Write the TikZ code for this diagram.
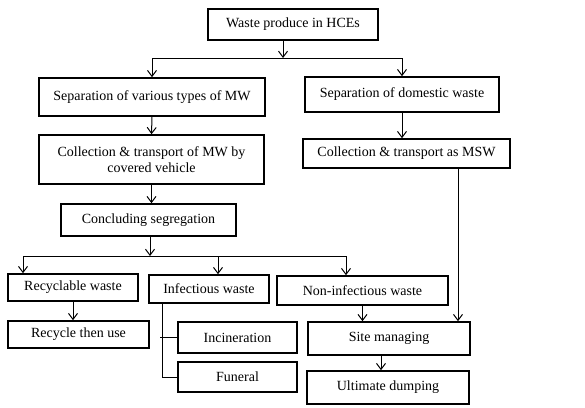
\documentclass[tikz,border=0pt]{standalone}
\usepackage{fontspec}
\setmainfont{Liberation Serif}
\usetikzlibrary{arrows.meta}

\begin{document}
\begin{tikzpicture}[
 x=1pt,
 y=-1pt,
 >={Straight Barb[length=6pt,width=9pt]},
 line width=1pt,
 stage/.style={
  draw=black,
  line width=1.6pt,
  rectangle,
  inner sep=1mm,
  minimum height=#1,
  align=center,
  font=\fontsize{14}{16}\selectfont,
 },
 stage/.default=30pt,
]
\useasboundingbox (0,0) rectangle (585,407);

\node at (293,24.5) [stage=31pt,minimum width=170pt] (produce) {Waste produce in HCEs};

\node at (152,97) [stage=38pt,minimum width=226pt] (sepmw) {Separation of various types of MW};
\node at (402,94.5) [stage=35pt,minimum width=194pt] (sepdom) {Separation of domestic waste};
\node at (151.5,159.5) [stage=49pt,minimum width=225pt] (collmw) {Collection \& transport of MW by\\covered vehicle};
\node at (406.5,153.5) [stage=29pt,minimum width=207pt] (collmsw) {Collection \& transport as MSW};
\node at (148.5,220) [stage=32pt,minimum width=175pt] (concl) {Concluding segregation};

\coordinate (split) at (283,58);
\draw[->] (produce.south -| split) -- (split);
\draw[->] (split) -| (sepmw.north);
\draw[->] (split) -| (sepdom.north);
\draw[->] (sepmw.south) -- (collmw.north);
\draw[->] (sepdom.south) -- (sepdom.south |- collmsw.north);
\draw[->] (collmw.south) -- (collmw.south |- concl.north);

\node at (73,287.5) [stage=27pt,minimum width=130pt] (recyc) {Recyclable waste};
\node at (209,289) [stage=28pt,minimum width=120pt] (infect) {Infectious waste};
\node at (362.5,290.5) [stage=29pt,minimum width=171pt] (noninf) {Non-infectious waste};
\node at (78.5,334.5) [stage=27pt,minimum width=141pt] (reuse) {Recycle then use};
\node at (237.5,337.5) [stage=31pt,minimum width=119pt] (incin) {Incineration};
\node at (237.5,377) [stage=30pt,minimum width=119pt] (funeral) {Funeral};
\node at (389,338.5) [stage=33pt,minimum width=162pt] (site) {Site managing};
\node at (388,387.5) [stage=33pt,minimum width=162pt] (dump) {Ultimate dumping};

\coordinate (fork) at (150,256);
\coordinate (fork1) at (23,256);
\coordinate (fork2) at (218,256);
\coordinate (fork3) at (346,256);
\draw[->] (concl.south -| fork) -- (fork);
\draw (fork1) -- (fork3);
\draw[->] (fork1) -- (fork1 |- recyc.north);
\draw[->] (fork2) -- (fork2 |- infect.north);
\draw[->] (fork3) -- (fork3 |- noninf.north);
\draw[->] (recyc.south) -- (recyc.south |- reuse.north);

\coordinate (trunk) at (162,0);
\draw (infect.south -| trunk) -- (trunk |- funeral.west) -- (funeral.west);
\draw ([xshift=-2pt]trunk |- incin.west) -- (incin.west);

\coordinate (drop) at (458,0);
\coordinate (feed) at (381,0);
\draw[->] (noninf.south) -- (noninf.south |- site.north);
\draw[->] (collmsw.south -| drop) -- (drop |- site.north);
\draw[->] (site.south -| feed) -- (feed |- dump.north);

\end{tikzpicture}
\end{document}
